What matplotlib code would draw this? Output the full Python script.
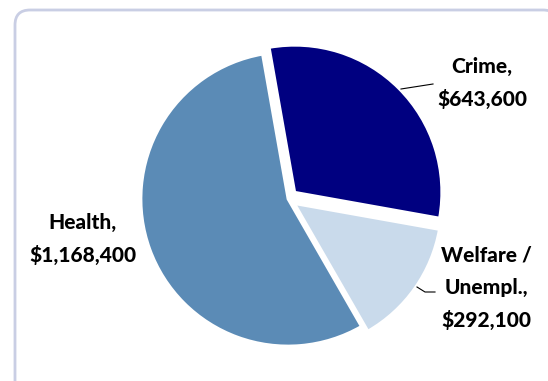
import matplotlib.pyplot as plt
from matplotlib.patches import FancyBboxPatch

# data
categories = ['Crime', 'Welfare / Unempl.', 'Health']
values = [643600, 292100, 1168400]
colors = ['#000080', '#C9DAEB', '#5B8BB6']
explode_frac = [0.065, 0.055, 0.0]
label_texts = ['Crime,\n$643,600', 'Welfare /\nUnempl.,\n$292,100', 'Health,\n$1,168,400']

W, H = 548, 381
fig = plt.figure(figsize=(W / 100, H / 100), dpi=100)
ax = fig.add_axes([0, 0, 1, 1])

# rounded frame
frame = FancyBboxPatch((15, -40), 543, H - 10 + 40, boxstyle='round,pad=0,rounding_size=15',
                       fc='white', ec='#C9CEE4', lw=2.0, zorder=0)
ax.add_patch(frame)

cx, cy, r = 288, H - 199, 147
ax.pie(values, colors=colors, explode=[e * r for e in explode_frac], startangle=100,
       counterclock=False, center=(cx, cy), radius=r, frame=True,
       wedgeprops=dict(edgecolor='white', linewidth=2))
ax.set_xlim(0, W)
ax.set_ylim(0, H)
ax.set_aspect('equal')
ax.axis('off')

font = dict(family=['Lato', 'DejaVu Sans'], weight='black', fontsize=15, color='black',
            ha='center', va='center', linespacing=1.8)
ax.text(482, H - 83, label_texts[0], **font)
ax.text(486, H - 288, label_texts[1], **font)
ax.text(83, H - 239, label_texts[2], **font)

# leader lines
ax.plot([401, 433], [H - 89, H - 84], color='black', lw=0.8)
ax.plot([417, 425, 435], [H - 287, H - 292, H - 292], color='black', lw=0.8)

fig.savefig('out.png', dpi=100)
